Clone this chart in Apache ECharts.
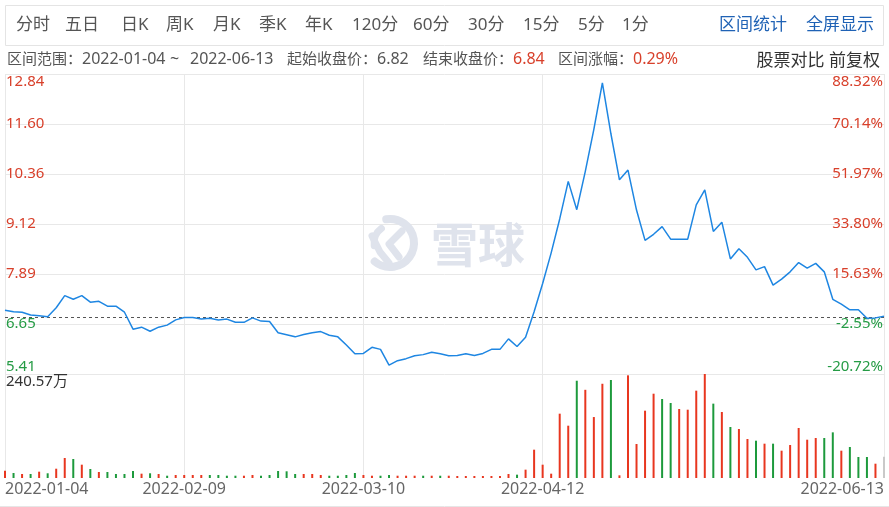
<!DOCTYPE html>
<html><head><meta charset="utf-8">
<script src="https://cdn.jsdelivr.net/npm/echarts@6/dist/echarts.min.js"></script>
<style>html,body{margin:0;padding:0;background:#fff}#c{width:889px;height:507px}</style>
</head><body><div id="c"></div>
<script>
// ---------------- DATA ----------------
const dates = [
 '2022-01-04','2022-01-05','2022-01-06','2022-01-07','2022-01-10','2022-01-11','2022-01-12','2022-01-13','2022-01-14','2022-01-17',
 '2022-01-18','2022-01-19','2022-01-20','2022-01-21','2022-01-24','2022-01-25','2022-01-26','2022-01-27','2022-01-28',
 '2022-02-07','2022-02-08','2022-02-09','2022-02-10','2022-02-11','2022-02-14','2022-02-15','2022-02-16','2022-02-17','2022-02-18',
 '2022-02-21','2022-02-22','2022-02-23','2022-02-24','2022-02-25','2022-02-28',
 '2022-03-01','2022-03-02','2022-03-03','2022-03-04','2022-03-07','2022-03-08','2022-03-09','2022-03-10','2022-03-11','2022-03-14',
 '2022-03-15','2022-03-16','2022-03-17','2022-03-18','2022-03-21','2022-03-22','2022-03-23','2022-03-24','2022-03-25','2022-03-28',
 '2022-03-29','2022-03-30','2022-03-31',
 '2022-04-01','2022-04-06','2022-04-07','2022-04-08','2022-04-11','2022-04-12','2022-04-13','2022-04-14','2022-04-15','2022-04-18',
 '2022-04-19','2022-04-20','2022-04-21','2022-04-22','2022-04-25','2022-04-26','2022-04-27','2022-04-28','2022-04-29',
 '2022-05-05','2022-05-06','2022-05-09','2022-05-10','2022-05-11','2022-05-12','2022-05-13','2022-05-16','2022-05-17','2022-05-18',
 '2022-05-19','2022-05-20','2022-05-23','2022-05-24','2022-05-25','2022-05-26','2022-05-27','2022-05-30','2022-05-31',
 '2022-06-01','2022-06-02','2022-06-06','2022-06-07','2022-06-08','2022-06-09','2022-06-10','2022-06-13'
];
const closes = [
 6.99, 6.95, 6.94, 6.87, 6.85, 6.83, 7.05, 7.35, 7.26, 7.35,
 7.19, 7.21, 7.09, 7.09, 6.94, 6.52, 6.57, 6.47, 6.57, 6.62,
 6.75, 6.81, 6.81, 6.77, 6.79, 6.75, 6.77, 6.69, 6.69, 6.80,
 6.72, 6.71, 6.43, 6.38, 6.33, 6.39, 6.43, 6.46, 6.37, 6.33,
 6.13, 5.91, 5.92, 6.07, 6.02, 5.63, 5.74, 5.79, 5.86, 5.89,
 5.95, 5.91, 5.86, 5.87, 5.91, 5.87, 5.92, 6.02, 6.02, 6.28,
 6.09, 6.32, 6.95, 7.65, 8.41, 9.25, 10.18, 9.48, 10.43, 11.47,
 12.62, 11.36, 10.22, 10.46, 9.47, 8.72, 8.87, 9.06, 8.75, 8.75,
 8.75, 9.60, 9.97, 8.94, 9.17, 8.26, 8.51, 8.30, 7.99, 8.07,
 7.61, 7.76, 7.94, 8.17, 8.03, 8.15, 7.94, 7.26, 7.14, 7.00,
 7.00, 6.79, 6.80, 6.84
];
// volume in 万 (10k shares)
const volumes = [
 17, 11.6, 9.3, 9.3, 14.6, 10.9, 21.5, 46.3, 44, 30.8,
 20.8, 13.9, 13.9, 9.3, 9.3, 16.2, 10, 10.9, 9.3, 5.3,
 6.9, 6.9, 6.9, 6.9, 6.9, 6.9, 5.3, 5.3, 5.3, 6.9,
 5.3, 6.9, 16.2, 15.5, 9.3, 9.3, 9.3, 6.9, 5.3, 5.3,
 6.9, 11.6, 6.9, 5.3, 5.3, 6.9, 5.3, 5.3, 5.3, 5.3,
 5.3, 5.3, 5.3, 4.6, 4.6, 4.6, 4.6, 4.6, 4.6, 9.3,
 7.7, 19.3, 65.5, 30.8, 10, 148.8, 121, 225, 204, 141,
 218, 226.7, 6.2, 237.5, 78.6, 155.7, 195, 182.7, 173.5, 159.6,
 158, 202, 240.57, 172, 152.7, 118, 113.3, 90.2, 86.3, 79.4,
 79.4, 63.2, 76.3, 115.7, 88.6, 92.5, 92.5, 105.6, 63.2, 71.7,
 48.6, 48.6, 33.1, 49
];
// 1 = up (red), -1 = down (green), 0 = flat (grey)
const volDir = [
 1,-1,1,-1,1,-1,1,1,-1,1,
 -1,1,-1,-1,-1,-1,1,-1,1,-1,
 1,1,1,1,-1,-1,-1,-1,1,1,
 -1,-1,-1,-1,-1,1,1,1,-1,-1,
 -1,-1,1,1,-1,-1,1,1,1,-1,
 1,-1,1,1,1,1,1,1,1,1,
 -1,1,1,1,1,1,1,-1,1,1,
 1,-1,1,1,1,1,1,-1,-1,1,
 1,1,1,-1,1,-1,1,1,-1,1,
 -1,1,1,1,1,1,-1,-1,1,-1,
 -1,-1,1,0
];
const priceTicks = [5.41, 6.65, 7.89, 9.12, 10.36, 11.60, 12.84];
const pctTicks = [-20.72, -2.55, 15.63, 33.80, 51.97, 70.14, 88.32];
const volMax = 240.57;
const xTickLabels = ['2022-01-04','2022-02-09','2022-03-10','2022-04-12','2022-06-13'];
const rangeStart = '2022-01-04', rangeEnd = '2022-06-13';
const startClose = 6.82, endClose = 6.84, rangePct = 0.29;
const tabs = ['分时','五日','日K','周K','月K','季K','年K','120分','60分','30分','15分','5分','1分'];
const tabsRight = ['区间统计','全屏显示'];

// ---------------- LAYOUT / STYLE ----------------
const FONT = '"Noto Sans", "Noto Sans CJK SC", sans-serif';
const RED = '#d8402b', GREEN = '#259b45', BARRED = '#e8361f', BARGREEN = '#1d9a3c', GRAYBAR = '#c9c9c9';
const GRIDC = '#e8e8e8', WM = '#dfe3ec', BLUE = '#1f62b5';
const tabX = [16, 65, 121, 166, 213, 259, 305, 352, 413, 468, 523, 578, 622];
const tabRX = [719, 806];

const ctx = document.createElement('canvas').getContext('2d');
function tw(t, size) { ctx.font = size + 'px ' + FONT; return ctx.measureText(t).width; }

const isTick = i => xTickLabels.indexOf(dates[i]) >= 0;

const graphics = [];
// tab box
graphics.push({type:'rect', shape:{x:5.5, y:5.5, width:878, height:40}, style:{fill:'#fff', stroke:'#e4e4e4', lineWidth:1}, z:0, silent:true});
tabs.forEach((t, i) => graphics.push({type:'text', x:tabX[i], y:25, style:{text:t, font:'17px ' + FONT, fill:'#555', textVerticalAlign:'middle'}, silent:true}));
tabsRight.forEach((t, i) => graphics.push({type:'text', x:tabRX[i], y:25, style:{text:t, font:'17px ' + FONT, fill:BLUE, textVerticalAlign:'middle'}, silent:true}));
// info row: parts = [text, colour, size]
function seg(x, parts) {
  let cx = x;
  parts.forEach(p => {
    graphics.push({type:'text', x:cx, y:59.5, style:{text:p[0], font:p[2] + 'px ' + FONT, fill:p[1], textVerticalAlign:'middle'}, silent:true});
    cx += tw(p[0], p[2]);
  });
}
seg(7, [['区间范围：', '#555', 15], [rangeStart, '#555', 16]]);
seg(170, [['~', '#555', 16]]);
seg(190, [[rangeEnd, '#555', 16]]);
seg(287, [['起始收盘价：', '#555', 15], [startClose.toFixed(2), '#555', 16]]);
seg(423, [['结束收盘价：', '#555', 15], [endClose.toFixed(2), RED, 16]]);
seg(558, [['区间涨幅：', '#555', 15], [rangePct.toFixed(2) + '%', RED, 16]]);
graphics.push({type:'text', x:880, y:61, style:{text:'股票对比 前复权', font:'17px ' + FONT, fill:'#333', textAlign:'right', textVerticalAlign:'middle'}, silent:true});
// bottom rule
graphics.push({type:'line', shape:{x1:0, y1:506.5, x2:889, y2:506.5}, style:{stroke:'#e6e6e6', lineWidth:1}, silent:true});
// watermark
graphics.push({type:'arc', shape:{cx:390, cy:243, r:24, startAngle:-Math.PI*0.55, endAngle:Math.PI*0.72, clockwise:true}, style:{stroke:WM, lineWidth:8, fill:null, lineCap:'round'}, z:1, silent:true});
graphics.push({type:'arc', shape:{cx:392, cy:243, r:18, startAngle:Math.PI*0.95, endAngle:Math.PI*1.3, clockwise:true}, style:{stroke:WM, lineWidth:7, fill:null, lineCap:'round'}, z:1, silent:true});
graphics.push({type:'polyline', shape:{points:[[402,231],[389,244],[399,257]]}, style:{stroke:WM, lineWidth:7, fill:null, lineCap:'round', lineJoin:'round'}, z:1, silent:true});
graphics.push({type:'polyline', shape:{points:[[372,236],[380,252],[389,263]]}, style:{stroke:WM, lineWidth:7, fill:null, lineCap:'round', lineJoin:'round'}, z:1, silent:true});
graphics.push({type:'text', x:478, y:244, style:{text:'雪球', font:'bold 47px "Noto Sans CJK SC", sans-serif', fill:WM, textAlign:'center', textVerticalAlign:'middle'}, z:1, silent:true});

const chart = echarts.init(document.getElementById('c'), null, {renderer:'canvas'});
const option = {
  animation: false,
  backgroundColor: '#fff',
  textStyle: {fontFamily: FONT},
  graphic: {elements: graphics},
  grid: [
    {left:5, right:5, top:74, height:300},
    {left:5, right:5, top:374, height:104}
  ],
  xAxis: [
    {type:'category', gridIndex:0, data:dates, boundaryGap:false,
     axisLine:{show:false}, axisTick:{show:false}, axisLabel:{show:false},
     splitLine:{show:true, interval:(i) => isTick(i), lineStyle:{color:GRIDC, width:1}}},
    {type:'category', gridIndex:1, data:dates, boundaryGap:false,
     axisLine:{show:false}, axisTick:{show:false},
     axisLabel:{show:true, interval:(i) => isTick(i), color:'#666', fontSize:16, margin:3,
                fontFamily:FONT, alignMinLabel:'left', alignMaxLabel:'right'},
     splitLine:{show:true, interval:(i) => isTick(i), lineStyle:{color:GRIDC, width:1}}}
  ],
  yAxis: [
    {type:'value', gridIndex:0, position:'left', min:priceTicks[0], max:priceTicks[priceTicks.length-1],
     axisLine:{show:false}, axisTick:{show:false, customValues:priceTicks},
     axisLabel:{inside:true, margin:1, fontSize:15, customValues:priceTicks, fontFamily:FONT,
       formatter:(v) => v.toFixed(2),
       color:(v) => (v >= startClose ? RED : GREEN),
       verticalAlignMinLabel:'bottom', verticalAlignMaxLabel:'top'},
     splitLine:{show:true, lineStyle:{color:GRIDC, width:1}}},
    {type:'value', gridIndex:0, position:'right', min:pctTicks[0], max:pctTicks[pctTicks.length-1],
     axisLine:{show:false}, axisTick:{show:false, customValues:pctTicks},
     axisLabel:{inside:true, margin:1, fontSize:15, customValues:pctTicks, fontFamily:FONT,
       formatter:(v) => v.toFixed(2) + '%',
       color:(v) => (v >= 0 ? RED : GREEN),
       verticalAlignMinLabel:'bottom', verticalAlignMaxLabel:'top'},
     splitLine:{show:false}},
    {type:'value', gridIndex:1, position:'left', min:0, max:volMax,
     axisLine:{show:false}, axisTick:{show:false, customValues:[volMax]},
     axisLabel:{inside:true, margin:1, fontSize:15, customValues:[volMax], color:'#333', fontFamily:FONT,
       formatter:(v) => v.toFixed(2) + '万', verticalAlignMaxLabel:'top', verticalAlign:'top'},
     splitLine:{show:false}}
  ],
  series: [
    {type:'line', xAxisIndex:0, yAxisIndex:0, data:closes, symbol:'none', silent:true,
     lineStyle:{color:'#1e86e2', width:1.5}, z:5,
     markLine:{silent:true, symbol:['none','none'], label:{show:false},
       lineStyle:{color:'#555', type:[3,3], width:1},
       data:[{yAxis:startClose}]}},
    {type:'bar', xAxisIndex:1, yAxisIndex:2, barWidth:2, silent:true,
     data: volumes.map((v, i) => ({value:v, itemStyle:{color: volDir[i] > 0 ? BARRED : (volDir[i] < 0 ? BARGREEN : GRAYBAR)}}))}
  ]
};
chart.setOption(option);
</script>
</body></html>
